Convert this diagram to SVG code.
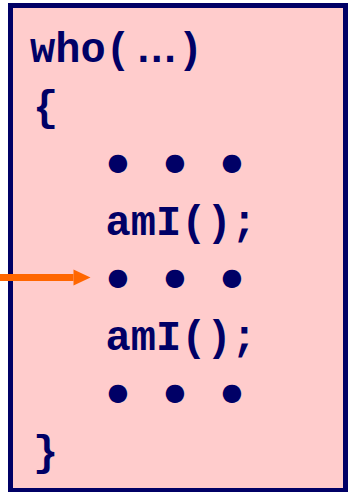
<svg xmlns="http://www.w3.org/2000/svg" width="348" height="492" viewBox="0 0 348 492">
<style>
.code{font-family:"Liberation Mono","DejaVu Sans Mono",monospace;font-weight:bold;font-size:42px;fill:#000066}
.dot{font-family:"DejaVu Sans",sans-serif;font-size:24px;fill:#000066;text-anchor:middle}
</style>
<defs>
<marker id="ah" markerUnits="userSpaceOnUse" markerWidth="17" markerHeight="16" refX="0" refY="8" orient="auto" overflow="visible">
<path d="M0,0 L17,8 L0,16 Z" fill="#FF6600"/>
</marker>
</defs>
<g id="box">
<rect x="10.5" y="5.5" width="335" height="485" fill="#FFCCCC" stroke="#000066" stroke-width="5"/>
</g>
<g id="code">
<text class="code" x="30" y="62">who(<tspan dx="5" font-family="Liberation Sans" font-weight="bold">…</tspan>)</text>
<text class="code" x="33" y="119.5">{</text>
<text class="dot" y="169.5"><tspan x="118">●</tspan><tspan x="175">●</tspan><tspan x="232">●</tspan></text>
<text class="code" x="105.6" y="234.5">amI();</text>
<text class="dot" y="284.5"><tspan x="118">●</tspan><tspan x="175">●</tspan><tspan x="232">●</tspan></text>
<text class="code" x="105.6" y="349.5">amI();</text>
<text class="dot" y="399.5"><tspan x="118">●</tspan><tspan x="175">●</tspan><tspan x="232">●</tspan></text>
<text class="code" x="33" y="464.5">}</text>
</g>
<g id="connectors">
<line x1="0" y1="277.5" x2="73.5" y2="277.5" stroke="#FF6600" stroke-width="7" marker-end="url(#ah)"/>
</g>
</svg>
